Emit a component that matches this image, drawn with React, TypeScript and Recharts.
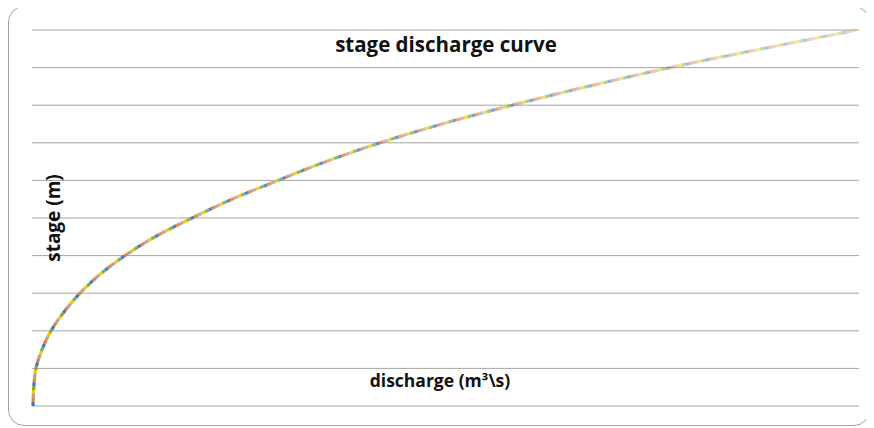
import React from "react";
import { LineChart, Line, XAxis, YAxis, CartesianGrid } from "recharts";

const stage = [0, 0.5, 1, 1.5, 2, 2.5, 3, 3.5, 4, 4.5, 5, 5.5, 6, 6.5, 7, 7.5, 8, 8.5, 9, 9.5, 10];
const discharge = [1, 1.8, 4, 10, 19, 32, 48, 68, 93, 123, 160, 200, 246, 294, 348, 410, 480, 556, 638, 730, 825];
const stageTicks = [0, 1, 2, 3, 4, 5, 6, 7, 8, 9, 10];
const seriesColors = ["#4472C4", "#ED7D31", "#A5A5A5", "#FFC000", "#70AD47"];
const titleText = "stage discharge curve";
const xLabelText = "discharge (m\u00b3\\s)";
const yLabelText = "stage (m)";

const data = stage.map((s, i) => ({ q: discharge[i], h: s }));

export default function App() {
  const font = "'Open Sans', 'Noto Sans', sans-serif";
  return (
    <div
      style={{
        position: "relative",
        width: 862,
        height: 420,
        marginTop: -2,
        border: "1px solid #a3a3a3",
        borderRadius: 16,
        boxSizing: "border-box",
        background: "#fff",
      }}
    >
      <LineChart width={860} height={418} data={data} margin={{ top: 23, right: 10, bottom: 19, left: 23 }}>
        <defs>
          {seriesColors.map((c, i) => (
            <linearGradient key={i} id={"g" + i} x1="0" y1="0" x2="1" y2="0">
              <stop offset="0" stopColor={c} stopOpacity={1} />
              <stop offset="0.45" stopColor={c} stopOpacity={0.75} />
              <stop offset="1" stopColor={c} stopOpacity={0.35} />
            </linearGradient>
          ))}
        </defs>
        <CartesianGrid vertical={false} stroke="#a6a6a6" strokeWidth={1} />
        <XAxis dataKey="q" type="number" domain={[0, 827]} hide />
        <YAxis type="number" domain={[0, 10]} ticks={stageTicks} hide />
        {seriesColors.map((c, i) => (
          <Line
            key={i}
            dataKey="h"
            type="monotoneY"
            stroke={`url(#g${i})`}
            strokeWidth={3.2}
            strokeDasharray="4 16"
            strokeDashoffset={-4 * i}
            dot={false}
            activeDot={false}
            isAnimationActive={false}
          />
        ))}
        <text x={437} y={37} textAnchor="middle" dominantBaseline="central" fontFamily={font} fontWeight="bold" fontSize={20.5} fill="#111">
          {titleText}
        </text>
        <text x={431} y={373} textAnchor="middle" dominantBaseline="central" fontFamily={font} fontWeight="bold" fontSize={17.5} fill="#111">
          {xLabelText}
        </text>
        <text
          x={44}
          y={211}
          textAnchor="middle"
          dominantBaseline="central"
          fontFamily={font}
          fontWeight="bold"
          fontSize={19}
          fill="#111"
          transform="rotate(-90 44 211)"
        >
          {yLabelText}
        </text>
      </LineChart>
    </div>
  );
}
